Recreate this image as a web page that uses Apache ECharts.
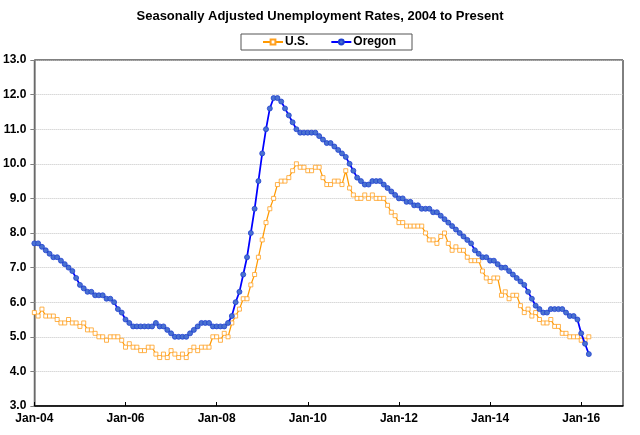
<!DOCTYPE html>
<html>
<head>
<meta charset="utf-8">
<script src="https://cdn.jsdelivr.net/npm/echarts@6/dist/echarts.min.js"></script>
<style>
html,body{margin:0;padding:0;background:#fff;}
#chart{width:640px;height:435px;}
</style>
</head>
<body>
<div id="chart"></div>
<script>
const titleText = 'Seasonally Adjusted Unemployment Rates, 2004 to Present';
const monthNames = ['Jan','Feb','Mar','Apr','May','Jun','Jul','Aug','Sep','Oct','Nov','Dec'];
const yearLabels = ['04','05','06','07','08','09','10','11','12','13','14','15','16'];
const yTickMin = 3, yTickMax = 13, yTickStep = 1;

// U.S., Jan 2004 - Mar 2016
const usRate = [
  5.7,5.6,5.8,5.6,5.6,5.6,5.5,5.4,5.4,5.5,5.4,5.4,
  5.3,5.4,5.2,5.2,5.1,5.0,5.0,4.9,5.0,5.0,5.0,4.9,
  4.7,4.8,4.7,4.7,4.6,4.6,4.7,4.7,4.5,4.4,4.5,4.4,
  4.6,4.5,4.4,4.5,4.4,4.6,4.7,4.6,4.7,4.7,4.7,5.0,
  5.0,4.9,5.1,5.0,5.4,5.6,5.8,6.1,6.1,6.5,6.8,7.3,
  7.8,8.3,8.7,9.0,9.4,9.5,9.5,9.6,9.8,10.0,9.9,9.9,
  9.8,9.8,9.9,9.9,9.6,9.4,9.4,9.5,9.5,9.4,9.8,9.3,
  9.1,9.0,9.0,9.1,9.0,9.1,9.0,9.0,9.0,8.8,8.6,8.5,
  8.3,8.3,8.2,8.2,8.2,8.2,8.2,8.0,7.8,7.8,7.7,7.9,
  8.0,7.7,7.5,7.6,7.5,7.5,7.3,7.2,7.2,7.2,6.9,6.7,
  6.6,6.7,6.7,6.2,6.3,6.1,6.2,6.2,5.9,5.7,5.8,5.6,
  5.7,5.5,5.4,5.4,5.5,5.3,5.3,5.1,5.1,5.0,5.0,5.0,
  4.9,4.9,5.0
];

// Oregon, Jan 2004 - Mar 2016
const oregonRate = [
  7.7,7.7,7.6,7.5,7.4,7.3,7.3,7.2,7.1,7.0,6.9,6.7,
  6.5,6.4,6.3,6.3,6.2,6.2,6.2,6.1,6.1,6.0,5.8,5.7,
  5.5,5.4,5.3,5.3,5.3,5.3,5.3,5.3,5.4,5.3,5.3,5.2,
  5.1,5.0,5.0,5.0,5.0,5.1,5.2,5.3,5.4,5.4,5.4,5.3,
  5.3,5.3,5.3,5.4,5.6,6.0,6.3,6.8,7.3,8.0,8.7,9.5,
  10.3,11.0,11.6,11.9,11.9,11.8,11.6,11.4,11.2,11.0,10.9,10.9,
  10.9,10.9,10.9,10.8,10.7,10.6,10.6,10.5,10.4,10.3,10.2,10.0,
  9.8,9.6,9.5,9.4,9.4,9.5,9.5,9.5,9.4,9.3,9.2,9.1,
  9.0,9.0,8.9,8.9,8.8,8.8,8.7,8.7,8.7,8.6,8.6,8.5,
  8.4,8.3,8.2,8.1,8.0,7.9,7.8,7.7,7.5,7.4,7.3,7.3,
  7.2,7.2,7.1,7.0,7.0,6.9,6.8,6.7,6.6,6.5,6.3,6.1,
  5.9,5.8,5.7,5.7,5.8,5.8,5.8,5.8,5.7,5.6,5.6,5.5,
  5.1,4.8,4.5
];

const categories = [];
yearLabels.forEach(y => monthNames.forEach(m => categories.push(m + '-' + y)));

const FONT = 'Liberation Sans, Arial, sans-serif';
const chart = echarts.init(document.getElementById('chart'), null, {renderer: 'canvas'});
chart.setOption({
  animation: false,
  backgroundColor: '#fff',
  title: {
    text: titleText,
    left: 'center',
    top: 10,
    padding: 0,
    textStyle: {fontFamily: FONT, fontSize: 13, fontWeight: 'bold', color: '#000'}
  },
  legend: {
    left: 241,
    top: 34,
    padding: [2, 16, 2, 21],
    itemWidth: 20,
    itemHeight: 6,
    itemGap: 22,
    borderColor: '#555',
    borderWidth: 1,
    textStyle: {fontFamily: FONT, fontSize: 12, fontWeight: 'bold', color: '#000', padding: [0,0,0,-3]},
    data: ['U.S.', 'Oregon']
  },
  grid: {
    left: 32, right: 17, top: 60, bottom: 29,
    show: true, borderColor: '#000', borderWidth: 1,
    containLabel: false
  },
  xAxis: {
    type: 'category',
    data: categories,
    boundaryGap: false,
    axisLine: {lineStyle: {color: '#000', width: 1.5}},
    axisTick: {show: true, inside: true, length: 4, interval: 23, lineStyle: {color: '#000'}},
    axisLabel: {interval: 23, margin: 7, fontFamily: FONT, fontSize: 12, fontWeight: 'bold', color: '#000'},
    splitLine: {show: false}
  },
  yAxis: {
    type: 'value',
    min: yTickMin, max: yTickMax, interval: yTickStep,
    axisLine: {show: true, lineStyle: {color: '#808080', width: 1.5}},
    axisTick: {show: true, length: 4, lineStyle: {color: '#808080'}},
    axisLabel: {margin: 8, fontFamily: FONT, fontSize: 12, fontWeight: 'bold', color: '#000',
      formatter: v => v.toFixed(1)},
    splitLine: {show: true, lineStyle: {color: '#c4c4c4', type: [1, 1], width: 1}}
  },
  series: [
    {
      name: 'U.S.',
      type: 'line',
      data: usRate,
      showAllSymbol: true,
      symbol: 'rect',
      symbolSize: 4,
      lineStyle: {color: '#FF9900', width: 1.25},
      itemStyle: {color: '#FFFFFF', borderColor: '#FFA020', borderWidth: 0.8},
      z: 2
    },
    {
      name: 'Oregon',
      type: 'line',
      data: oregonRate,
      showAllSymbol: true,
      symbol: 'circle',
      symbolSize: 5,
      lineStyle: {color: '#0000FF', width: 1.75},
      itemStyle: {color: '#4a72d0', borderColor: '#2040d0', borderWidth: 0.8},
      z: 3
    }
  ]
});
</script>
</body>
</html>
